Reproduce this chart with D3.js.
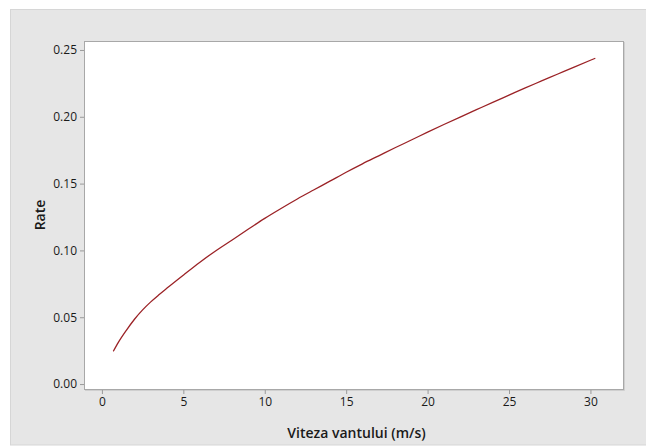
<!DOCTYPE html>
<html>
<head>
<meta charset="utf-8">
<script src="https://cdn.jsdelivr.net/npm/d3@7"></script>
<style>
  html, body { margin: 0; padding: 0; background: #ffffff; }
  svg { display: block; }
  .tick text { font-family: "Open Sans", sans-serif; font-size: 12px; fill: #1a1a1a; }
  .axis-title { font-family: "Open Sans", sans-serif; font-size: 14px; font-weight: 600; fill: #1a1a1a; }
</style>
</head>
<body>
<script>
// Wind speed (m/s) and the corresponding rate
const windSpeed = [0.7, 1, 1.5, 2, 2.5, 3, 3.5, 4, 5, 6, 7, 8, 9, 10, 11, 12, 13, 14, 15,
                   16, 17, 18, 19, 20, 21, 22, 23, 24, 25, 26, 27, 28, 29, 30, 30.3];
const rate = [0.0245, 0.0310, 0.0402, 0.0485, 0.0555, 0.0615, 0.0668, 0.0718, 0.0815,
              0.0910, 0.0998, 0.1078, 0.1160, 0.1240, 0.1314, 0.1385, 0.1452, 0.1518,
              0.1585, 0.1648, 0.1708, 0.1768, 0.1826, 0.1885, 0.1942, 0.1998, 0.2053,
              0.2108, 0.2162, 0.2216, 0.2268, 0.2320, 0.2372, 0.2423, 0.2438];
const xTicks = [0, 5, 10, 15, 20, 25, 30];
const yTicks = [0.00, 0.05, 0.10, 0.15, 0.20, 0.25];
const xTitle = "Viteza vantului (m/s)";
const yTitle = "Rate";

const W = 646, H = 446;
const plot = { left: 84, top: 41, right: 623, bottom: 389 };

const svg = d3.select("body").append("svg").attr("width", W).attr("height", H);

// Outer panel
svg.append("rect").attr("x", 10.5).attr("y", 9.5).attr("width", W - 10).attr("height", H - 10.5)
  .attr("fill", "#e6e6e6").attr("stroke", "#d6d6d6");

const x = d3.scaleLinear().domain([-1.1, 32.0]).range([plot.left, plot.right]);
const y = d3.scaleLinear().domain([-0.0037, 0.2567]).range([plot.bottom, plot.top]);

// Plot area with a soft shadow on the right and bottom edges
svg.append("path")
  .attr("d", `M${plot.right + 1.5},${plot.top + 1}V${plot.bottom + 1.5}H${plot.left + 1}`)
  .attr("fill", "none").attr("stroke", "#cfcfcf");
svg.append("rect").attr("x", plot.left + 0.5).attr("y", plot.top + 0.5)
  .attr("width", plot.right - plot.left).attr("height", plot.bottom - plot.top)
  .attr("fill", "#ffffff").attr("stroke", "#a8a8a8");

const xAxis = d3.axisBottom(x).tickValues(xTicks).tickFormat(d3.format("d"))
  .tickSize(4).tickSizeOuter(0).tickPadding(3);
const gx = svg.append("g").attr("transform", `translate(0,${plot.bottom + 1})`).call(xAxis);
gx.select(".domain").remove();
gx.selectAll(".tick line").attr("stroke", "#9a9a9a");

const yAxis = d3.axisLeft(y).tickValues(yTicks).tickFormat(d3.format(".2f"))
  .tickSize(4).tickSizeOuter(0).tickPadding(3);
const gy = svg.append("g").attr("transform", `translate(${plot.left},0)`).call(yAxis);
gy.select(".domain").remove();
gy.selectAll(".tick line").attr("stroke", "#9a9a9a");

// Curve
const line = d3.line().x((d, i) => x(windSpeed[i])).y(d => y(d)).curve(d3.curveMonotoneX);
svg.append("path").datum(rate).attr("d", line)
  .attr("fill", "none").attr("stroke", "#9b2226").attr("stroke-width", 1.3);

// Axis titles
svg.append("text").attr("class", "axis-title")
  .attr("x", (plot.left + plot.right) / 2 + 3).attr("y", 438)
  .attr("text-anchor", "middle").text(xTitle);
svg.append("text").attr("class", "axis-title")
  .attr("transform", `translate(45,${(plot.top + plot.bottom) / 2}) rotate(-90)`)
  .attr("text-anchor", "middle").text(yTitle);
</script>
</body>
</html>
